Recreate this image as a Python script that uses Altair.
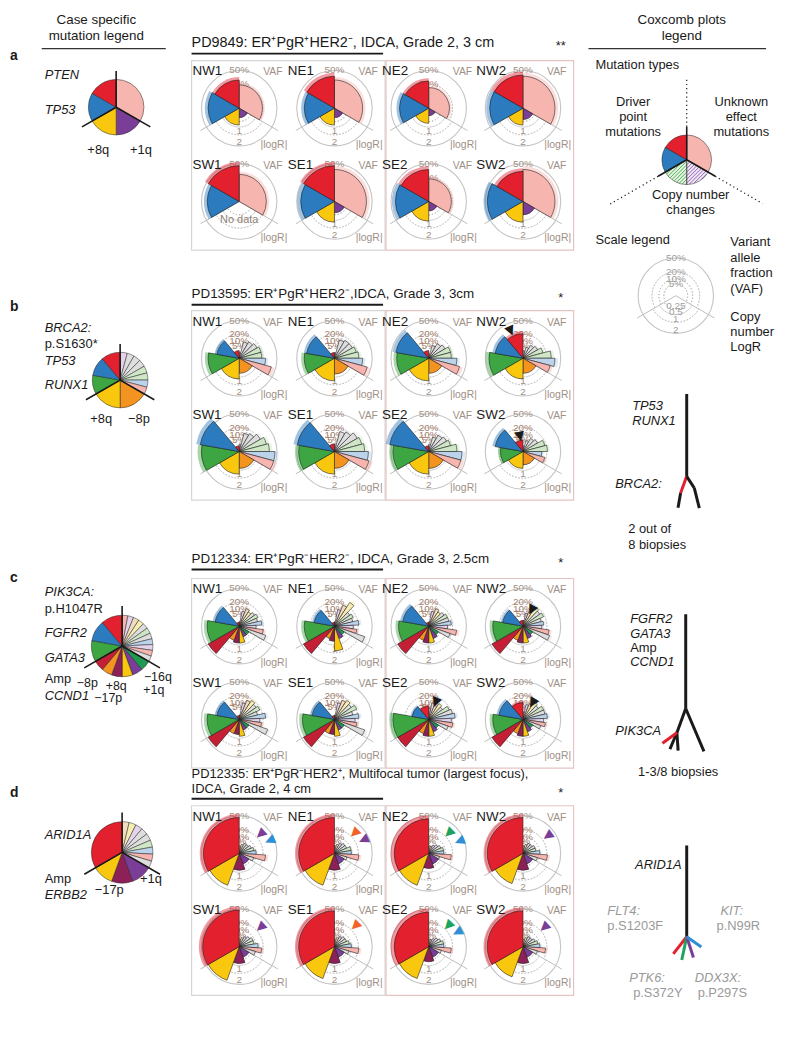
import math
import altair as alt
import pandas as pd

FONT = "Liberation Sans"

# ------------------------------------------------------------------ data
SAMPLES = ["NW1", "NE1", "NE2", "NW2", "SW1", "SE1", "SE2", "SW2"]

RED = "#E2202E"; BLUE = "#2C7BBE"; GREEN = "#3DA642"; YELLOW = "#F9C80E"
PURPLE = "#7A3E98"; ORANGE = "#F49420"; DKRED = "#C41F35"; MAGENTA = "#8E2058"
DKGREEN = "#1E9A50"; PINK = "#F6B5AF"; GRAY = "#DEDEDE"; LGREEN = "#CFE7C6"
LBLUE = "#BBD3EB"; LAV = "#E4D3EA"; BEIGE = "#F3DBBE"; LYEL = "#F7EDB2"
BLACK = "#1a1a1a"; ARR_ORANGE = "#F0642A"; ARR_BLUE = "#2D8FD6"; ARR_GREEN = "#1DA35E"

# case a  PD9849   (unknown-effect VAF | copy number |logR| | driver VAF)
A_UNK_COL = [PINK]
A_CN_COL = [PURPLE, YELLOW]            # +1q, +8q
A_DRV_COL = [BLUE, RED]                # TP53, PTEN
A_UNK = [[.19], [.28], [.15], [.36], [.26], [.36], [.18], [.36]]
A_CN = [[.125, .40], [.125, .40], [.08, .32], [.18, .40], [None, None],
        [.18, .60], [.125, .54], [.245, .60]]
A_DRV = [[.34, .28], [.32, .36], [.30, .26], [.39, .39], [.36, .45],
         [.40, .45], [.39, .36], [.45, .32]]

# case b  PD13595
B_UNK_COL = [LAV, GRAY, GRAY, GRAY, LGREEN, LGREEN, LBLUE, PINK]
B_CN_COL = [ORANGE, YELLOW]            # -8p, +8q
B_DRV_COL = [GREEN, BLUE, RED]         # RUNX1, TP53, BRCA2
B_UNK = [[.011, .10, .125, .15, .18, .18, .245, .39],
         [.011, .125, .15, .15, .18, .21, .28, .405],
         [.007, .061, .10, .125, .18, .18, .28, .36],
         [.02, .045, .08, .10, .15, .28, .36, .28],
         [.02, .125, .15, .21, .28, .32, .45, .45],
         [.02, .15, .18, .245, .28, .32, .405, .45],
         [.02, .08, .125, .15, .18, .28, .39, .39],
         [.011, .045, .08, .10, .18, .21, .125, .18]]
B_CN = [[.32, .60], [.35, .72], [.32, .72], [.32, .60], [.40, .72], [.40, .72],
        [.40, .72], [.245, .40]]
B_DRV = [[.34, .18, .02], [.32, .28, .011], [.36, .39, .02], [.405, .28, .21],
         [.50, .55, .011], [.45, .50, .02], [.45, .55, .011], [.18, .28, .045]]

# case c  PD12334
C_UNK_COL = [PINK, LAV, BEIGE, LYEL, GRAY, LGREEN, GRAY, LBLUE, LAV, PINK, GRAY]
C_CN_COL = [DKGREEN, PURPLE, YELLOW, MAGENTA, ORANGE, DKRED]  # -16q,+1q,+8q,-17p,-8p,Amp CCND1
C_DRV_COL = [GREEN, BLUE, RED]         # GATA3, FGFR2, PIK3CA
C_UNK = [[.007, .08, .125, .10, .125, .15, .125, .18, .10, .21, .28],
         [.007, .10, .18, .28, .125, .15, .125, .21, .125, .18, .36],
         [.007, .08, .125, .10, .125, .15, .15, .18, .125, .28, .18],
         [.011, .061, .125, .18, .15, .18, .125, .15, .125, .245, .28],
         [.007, .10, .15, .18, .15, .18, .125, .245, .15, .18, .32],
         [.007, .10, .15, .18, .15, .21, .125, .21, .15, .18, .36],
         [.045, .10, .08, .125, .10, .18, .21, .245, .18, .21, .15],
         [.02, .08, .10, .15, .125, .18, .18, .21, .15, .18, .125]]
C_CN = [[.18, .18, .40, .40, .32, 1.8], [.18, .245, .85, .32, .245, 1.8],
        [.18, .245, .40, .40, .32, 1.8], [.18, .245, .40, .40, .32, 1.8],
        [.18, .18, .40, .32, .32, 1.8], [.18, .18, .40, .32, .32, 1.8],
        [.18, .245, .40, .40, .32, 1.8], [.18, .245, .40, .40, .32, 1.8]]
C_DRV = [[.36, .21, .005], [.32, .15, .005], [.32, .245, .005], [.32, .15, .011],
         [.36, .18, .005], [.36, .18, .005], [.45, .10, .061], [.32, .21, .10]]

# case d  PD12335
D_UNK_COL = [BEIGE, LYEL, LAV, GRAY, GRAY, LGREEN, LBLUE, PINK, GRAY]
D_CN_COL = [PURPLE, MAGENTA, YELLOW]   # +1q, -17p, Amp ERBB2
D_DRV_COL = [RED]                      # ARID1A
D_UNK = [[.02, .031, .045, .045, .061, .08, .10, .245, .08],
         [.02, .031, .045, .061, .061, .10, .10, .21, .061],
         [.02, .02, .031, .045, .061, .08, .08, .18, .045],
         [.02, .031, .045, .045, .061, .061, .10, .21, .08],
         [.02, .031, .045, .061, .08, .08, .125, .18, .10],
         [.02, .031, .045, .061, .061, .08, .10, .21, .08],
         [.02, .02, .031, .045, .061, .08, .08, .18, .061],
         [.02, .031, .045, .045, .061, .08, .10, .18, .08]]
D_CN = [[.18, .40, 1.62], [.18, .40, 1.62], [.18, .32, 1.62], [.18, .40, 1.45],
        [.18, .40, 1.8], [.18, .40, 1.62], [.18, .32, 1.62], [.18, .40, 1.45]]
D_DRV = [[.45], [.45], [.42], [.45], [.47], [.45], [.42], [.45]]

# arrowheads: (sample, angle in degrees clockwise from 12 o'clock, VAF position, colour)
B_ARROWS = [("NW2", 336, .33, BLACK), ("SW2", 349, .09, BLACK)]
C_ARROWS = [("NW2", 28, .125, BLACK), ("SE2", 22, .125, BLACK), ("SW2", 30, .135, BLACK)]
D_ARROWS = [("NW1", 48, .30, PURPLE), ("NW1", 67, .40, ARR_BLUE),
            ("NE1", 45, .30, ARR_ORANGE), ("NE1", 65, .38, PURPLE),
            ("NE2", 45, .30, ARR_GREEN), ("NE2", 68, .40, ARR_BLUE),
            ("NW2", 55, .34, PURPLE), ("SW1", 48, .30, PURPLE),
            ("SE1", 45, .32, ARR_ORANGE), ("SE2", 43, .30, ARR_GREEN),
            ("SE2", 63, .38, ARR_BLUE), ("SW2", 48, .30, PURPLE)]

# scale rings
RING_VAF = [0.5, 0.2, 0.1, 0.05]
RING_VAF_LAB = ["50%", "20%", "10%", "5%"]
RING_CN = [0.25, 0.5, 1, 2]
RING_CN_LAB = ["0.25", "0.5", "1", "2"]

# phylogenetic trees: (parent segment, angle from vertical in deg, length, colour)
TREE_B = [(-1, 0, 83, BLACK), (0, -20, 18, RED), (1, -10, 15, BLACK),
          (0, 33, 14, BLACK), (3, 14, 21, BLACK)]
TREE_C = [(-1, 0, 95, BLACK), (0, 23, 47, BLACK), (0, -20, 26, BLACK),
          (2, -23, 18, BLACK), (2, 4, 18, BLACK), (2, -54, 18, RED)]
TREE_D = [(-1, 0, 92, BLACK), (0, -38, 22, RED), (0, -12, 24, ARR_GREEN),
          (0, 18, 22, PURPLE), (0, 55, 18, ARR_BLUE)]

# ------------------------------------------------------------------ layout
COL_X = [241, 337, 432, 527]
ROW_Y = {"a": 105, "b": 357, "c": 627, "d": 856}
ROW_GAP = 94
R_PX = 38
TAU = 2 * math.pi

XS = alt.Scale(domain=[8, 784], nice=False, zero=False)
YS = alt.Scale(domain=[8, 1028], nice=False, zero=False, reverse=True)
RS = alt.Scale(type="sqrt", domain=[0, 1], range=[0, R_PX], nice=False)


def X(f):
    return alt.X(f"{f}:Q", scale=XS, axis=None)


def Y(f):
    return alt.Y(f"{f}:Q", scale=YS, axis=None)


def TH(f):
    return alt.Theta(f"{f}:Q", scale=None, stack=False)


CASES = {
    "a": (A_UNK_COL, A_CN_COL, A_DRV_COL, A_UNK, A_CN, A_DRV, []),
    "b": (B_UNK_COL, B_CN_COL, B_DRV_COL, B_UNK, B_CN, B_DRV, B_ARROWS),
    "c": (C_UNK_COL, C_CN_COL, C_DRV_COL, C_UNK, C_CN, C_DRV, C_ARROWS),
    "d": (D_UNK_COL, D_CN_COL, D_DRV_COL, D_UNK, D_CN, D_DRV, D_ARROWS),
}


def center(case, s):
    return COL_X[s % 4], ROW_Y[case] + ROW_GAP * (s // 4)


wedges, arrows, panels = [], [], []
for key, (uc, cc, dc, uv, cv, dv, arr) in CASES.items():
    for s in range(8):
        cx, cy = center(key, s)
        has_cn = any(v is not None for v in cv[s])
        panels.append((cx, cy, SAMPLES[s], key, has_cn))
        for start, cols, vals, kind in ((0, uc, uv[s], "mut"), (120, cc, cv[s], "cn"),
                                        (240, dc, dv[s], "mut")):
            n = len(cols)
            for i, (col, v) in enumerate(zip(cols, vals)):
                if v is None:
                    continue
                rn = v / 0.5 if kind == "mut" else v / 2.0
                wedges.append(dict(cx=cx, cy=cy,
                                   t0=math.radians(start + 120 * i / n),
                                   t1=math.radians(start + 120 * (i + 1) / n),
                                   rn=rn, rh=rn * 1.22 if kind == "mut" else rn, col=col))
    for name, ang, vaf, col in arr:
        cx, cy = center(key, SAMPLES.index(name))
        arrows.append(dict(cx=cx, cy=cy, t=math.radians(ang), deg=ang, rn=vaf / 0.5, col=col))

wdf = pd.DataFrame(wedges)
adf = pd.DataFrame(arrows)

SCALE_C = (681, 294)
circles = [(p[0], p[1]) for p in panels] + [SCALE_C]

rings, outer, spokes, ringlab = [], [], [], []
for cx, cy in circles:
    outer.append(dict(cx=cx, cy=cy, t0=0, t1=TAU, rn=1))
    for v in RING_VAF[1:]:
        rings.append(dict(cx=cx, cy=cy, t0=math.radians(240), t1=math.radians(480), rn=v / 0.5))
    for v in RING_CN[:3]:
        rings.append(dict(cx=cx, cy=cy, t0=math.radians(120), t1=math.radians(240), rn=v / 2))
    for ang in (120, 240):
        a = math.radians(ang)
        spokes.append(dict(x=cx, y=cy, x2=cx + 45 * math.sin(a), y2=cy - 45 * math.cos(a),
                           col="#BDBDBD", w=1))
TAUPE = "#A09086"
RINGC = "#A47E6C"
for (cx, cy, name, key, has_cn) in panels:
    for v, lab in zip(RING_VAF, RING_VAF_LAB):
        ringlab.append(dict(cx=cx, cy=cy, t=0, rn=v / 0.5, label=lab,
                            col=TAUPE if v == 0.5 else RINGC, dy=0))
    if has_cn:
        for v, lab in zip(RING_CN[2:], RING_CN_LAB[2:]):
            ringlab.append(dict(cx=cx, cy=cy, t=math.pi, rn=v / 2, label=lab, col=TAUPE, dy=-4))
for v, lab in zip(RING_VAF, RING_VAF_LAB):
    ringlab.append(dict(cx=SCALE_C[0], cy=SCALE_C[1], t=0, rn=v / 0.5, label=lab, col="#A0A0A0", dy=0))
for v, lab in zip(RING_CN, RING_CN_LAB):
    ringlab.append(dict(cx=SCALE_C[0], cy=SCALE_C[1], t=math.pi, rn=v / 2, label=lab, col="#A0A0A0", dy=-3))

LEG = {"a": (117, 104, 28), "b": (121, 379, 28), "c": (123, 647, 31), "d": (123, 855, 31)}
leg_layers = []
leg_rules = []
for key, (uc, cc, dc, *_rest) in CASES.items():
    lx, ly, lr = LEG[key]
    rows = []
    for start, cols in ((0, uc), (120, cc), (240, dc)):
        n = len(cols)
        for i, col in enumerate(cols):
            rows.append(dict(cx=lx, cy=ly, t0=math.radians(start + 120 * i / n),
                             t1=math.radians(start + 120 * (i + 1) / n), col=col))
    leg_layers.append((pd.DataFrame(rows), lr))
    for ang, ln in ((0, 1.3), (120, 1.42), (240, 1.42)):
        a = math.radians(ang)
        leg_rules.append(dict(x=lx, y=ly, x2=lx + lr * ln * math.sin(a),
                              y2=ly - lr * ln * math.cos(a), col=BLACK, w=1.6))

# mutation-type legend pie (right column); copy-number wedges are hatched
MT = (692, 157, 25)
MT_COLS = [(0, 120, PINK), (120, 180, "#EFE6F4"), (180, 240, "#E6F3E2"),
           (240, 300, BLUE), (300, 360, RED)]
HATCH = [(120, 180, "#8E55B0"), (180, 240, "#3DA642")]
mtdf = pd.DataFrame([dict(cx=MT[0], cy=MT[1], t0=math.radians(a), t1=math.radians(b), col=c)
                     for a, b, c in MT_COLS])
hatch = []
for a0, a1, hc in HATCH:
    k = -MT[2]
    while k <= MT[2]:
        inside = []
        for j in range(-200, 201):
            t = MT[2] * j / 200
            px = k * 0.7071 + t * 0.7071
            py = k * 0.7071 - t * 0.7071
            d = math.hypot(px, py)
            ang = math.degrees(math.atan2(px, -py)) % 360
            if d <= MT[2] - 0.3 and a0 <= ang <= a1:
                inside.append((px, py))
        if len(inside) > 1:
            (x1, y1), (x2, y2) = inside[0], inside[-1]
            hatch.append(dict(x=MT[0] + x1, y=MT[1] + y1, x2=MT[0] + x2, y2=MT[1] + y2,
                              col=hc, w=0.9))
        k += 2.6

dotted = []
for ang, ln in ((0, 82), (120, 88), (240, 89)):
    a = math.radians(ang)
    leg_rules.append(dict(x=MT[0], y=MT[1], x2=MT[0] + MT[2] * 1.33 * math.sin(a),
                          y2=MT[1] - MT[2] * 1.33 * math.cos(a), col=BLACK, w=1.6))
    dotted.append(dict(x=MT[0] + MT[2] * 1.33 * math.sin(a), y=MT[1] - MT[2] * 1.33 * math.cos(a),
                       x2=MT[0] + ln * math.sin(a), y2=MT[1] - ln * math.cos(a), col=BLACK, w=1.2))


def tree(root, spec):
    ends, segs = [], []
    for parent, ang, ln, col in spec:
        sx, sy = root if parent < 0 else ends[parent]
        a = math.radians(ang)
        ex, ey = sx + ln * math.sin(a), sy + ln * math.cos(a)
        ends.append((ex, ey))
        segs.append(dict(x=sx, y=sy, x2=ex, y2=ey, col=col, w=3))
    return segs


tree_rules = tree((692, 393), TREE_B) + tree((691, 615), TREE_C) + tree((692, 848), TREE_D)

lines = [dict(x=42, y=45, x2=167, y2=45, col="#333", w=1.3),
         dict(x=593, y=45, x2=772, y2=45, col="#333", w=1.3)]
for yy in (50, 303, 570, 801):
    lines.append(dict(x=193, y=yy, x2=386, y2=yy, col=BLACK, w=2))

boxes = []
for key, y0 in ROW_Y.items():
    boxes.append(dict(x=193, x2=388, y=y0 - 48, y2=y0 + 143, col="#D6D6D6"))
    boxes.append(dict(x=389, x2=578, y=y0 - 48, y2=y0 + 143, col="#E6C3C3"))
bdf = pd.DataFrame(boxes)

# ------------------------------------------------------------------ texts
texts = []


def add(x, y, s, size=13, col=BLACK, align="left", style="normal"):
    texts.append(dict(tx=x, ty=y, label=s, fs=size, tc=col, al=align, st=style))


P, M = "\u207a", "\u207b"
add(97, 16, "Case specific", size=13.5, align="center")
add(97, 32, "mutation legend", size=13.5, align="center")
add(687, 16, "Coxcomb plots", size=13.5, align="center")
add(687, 32, "legend", size=13.5, align="center")
for lt, yy in (("a", 52), ("b", 305), ("c", 578), ("d", 795)):
    add(10, yy, lt, size=14, style="bold")

add(193, 39, f"PD9849: ER{P}PgR{P}HER2{M}, IDCA, Grade 2, 3 cm", size=14.5)
add(565, 42, "**", align="center")
add(193, 292, f"PD13595: ER{P}PgR{P}HER2{M},IDCA, Grade 3, 3cm", size=13.5)
add(565, 296, "*", align="center")
add(193, 559, f"PD12334: ER{P}PgR{M}HER2{M}, IDCA, Grade 3, 2.5cm", size=13.5)
add(565, 563, "*", align="center")
add(193, 776, f"PD12335: ER{P}PgR{M}HER2{P}, Multifocal tumor (largest focus),")
add(193, 791, "IDCA, Grade 2, 4 cm"); add(565, 795, "*", align="center")

add(45, 72, "PTEN", style="italic"); add(45, 107, "TP53", style="italic")
add(99, 147, "+8q", align="center"); add(142, 147, "+1q", align="center")
add(45, 327, "BRCA2:", style="italic"); add(45, 343, "p.S1630*")
add(45, 360, "TP53", style="italic"); add(45, 384, "RUNX1", style="italic")
add(102, 418, "+8q", align="center"); add(140, 418, "\u22128p", align="center")
add(45, 593, "PIK3CA:", style="italic"); add(45, 610, "p.H1047R")
add(45, 634, "FGFR2", style="italic"); add(45, 659, "GATA3", style="italic")
add(45, 680, "Amp"); add(45, 697, "CCND1", style="italic")
add(88, 684, "\u22128p", align="center", size=12.5)
add(109, 699, "\u221217p", align="center", size=12.5)
add(117, 687, "+8q", align="center", size=12.5)
add(155, 691, "+1q", align="center", size=12.5)
add(159, 678, "\u221216q", align="center", size=12.5)
add(45, 837, "ARID1A", style="italic"); add(45, 882, "Amp"); add(45, 898, "ERBB2", style="italic")
add(110, 893, "\u221217p", align="center"); add(152, 882, "+1q", align="center")

add(600, 61, "Mutation types")
for i, s in enumerate(["Driver", "point", "mutations"]):
    add(638, 99 + 15 * i, s, align="center")
for i, s in enumerate(["Unknown", "effect", "mutations"]):
    add(747, 99 + 15 * i, s, align="center")
add(696, 193, "Copy number", align="center"); add(696, 208, "changes", align="center")
add(600, 238, "Scale legend")
for i, s in enumerate(["Variant", "allele", "fraction", "(VAF)"]):
    add(736, 240 + 15.7 * i, s)
for i, s in enumerate(["Copy", "number", "LogR"]):
    add(736, 315 + 15.5 * i, s)
add(637, 405, "TP53", style="italic"); add(637, 420, "RUNX1", style="italic")
add(620, 484, "BRCA2:", style="italic")
add(633, 529, "2 out of"); add(633, 545, "8  biopsies")
add(635, 620, "FGFR2", style="italic"); add(635, 635, "GATA3", style="italic")
add(635, 649, "Amp"); add(635, 663, "CCND1", style="italic")
add(620, 733, "PIK3CA", style="italic"); add(643, 774, "1-3/8  biopsies")
add(640, 868, "ARID1A", style="italic")
TG = "#9A9A9A"
add(612, 914, "FLT4:", col=TG, style="italic"); add(612, 929, "p.S1203F", col=TG)
add(726, 914, "KIT:", col=TG, style="italic"); add(722, 929, "p.N99R", col=TG)
add(634, 982, "PTK6:", col=TG, style="italic"); add(638, 997, "p.S372Y", col=TG)
add(700, 982, "DDX3X:", col=TG, style="italic"); add(703, 997, "p.P297S", col=TG)

for (cx, cy, name, key, has_cn) in panels:
    add(cx - 47, cy - 37, name, size=13.5)
    add(cx + 34, cy - 36, "VAF", size=10.5, col=TAUPE, align="center")
    add(cx + 35, cy + 37, "|logR|", size=10.5, col=TAUPE, align="center")
    if not has_cn:
        add(cx, cy + 19, "No data", size=11, col="#8E7F76", align="center")

tdf = pd.DataFrame(texts)

# ------------------------------------------------------------------ layers
layers = []
layers.append(alt.Chart(bdf).mark_rect(filled=False, strokeWidth=1.2).encode(
    x=X("x"), x2=alt.X2("x2:Q"), y=Y("y"), y2=alt.Y2("y2:Q"),
    color=alt.Color("col:N", scale=None)))

layers.append(alt.Chart(pd.DataFrame(rings)).mark_arc(
    filled=False, strokeDash=[1, 2.2], strokeWidth=0.9, color="#A8A8A8").encode(
    x=X("cx"), y=Y("cy"), theta=TH("t0"), theta2=alt.Theta2("t1:Q"),
    radius=alt.Radius("rn:Q", scale=RS), radius2=alt.Radius2("rn:Q")))

layers.append(alt.Chart(pd.DataFrame(outer)).mark_arc(
    filled=False, strokeWidth=1.1, color="#C4C4C4").encode(
    x=X("cx"), y=Y("cy"), theta=TH("t0"), theta2=alt.Theta2("t1:Q"),
    radius=alt.Radius("rn:Q", scale=RS)))

layers.append(alt.Chart(pd.DataFrame(spokes)).mark_rule().encode(
    x=X("x"), y=Y("y"), x2=alt.X2("x2:Q"), y2=alt.Y2("y2:Q"),
    color=alt.Color("col:N", scale=None), size=alt.Size("w:Q", scale=None)))

rl = pd.DataFrame(ringlab)
for dyv in (0, -4, -3):
    sub = rl[rl.dy == dyv]
    layers.append(alt.Chart(sub).mark_text(font=FONT, fontSize=10, baseline="middle",
                                           align="center", dy=dyv).encode(
        x=X("cx"), y=Y("cy"), theta=TH("t"), radius=alt.Radius("rn:Q", scale=RS),
        text="label:N", color=alt.Color("col:N", scale=None)))

layers.append(alt.Chart(wdf).mark_arc(opacity=0.45).encode(
    x=X("cx"), y=Y("cy"), theta=TH("t0"), theta2=alt.Theta2("t1:Q"),
    radius=alt.Radius("rh:Q", scale=RS), color=alt.Color("col:N", scale=None)))
layers.append(alt.Chart(wdf).mark_arc(stroke="#222222", strokeWidth=0.6).encode(
    x=X("cx"), y=Y("cy"), theta=TH("t0"), theta2=alt.Theta2("t1:Q"),
    radius=alt.Radius("rn:Q", scale=RS), color=alt.Color("col:N", scale=None)))

layers.append(alt.Chart(adf).mark_text(font="DejaVu Sans", fontSize=13, baseline="middle",
                                       align="center", text="\u25BC").encode(
    x=X("cx"), y=Y("cy"), theta=TH("t"), radius=alt.Radius("rn:Q", scale=RS),
    angle=alt.Angle("deg:Q", scale=None), color=alt.Color("col:N", scale=None)))

for ldf, lr in leg_layers:
    layers.append(alt.Chart(ldf).mark_arc(radius=lr, stroke="#222222", strokeWidth=0.5).encode(
        x=X("cx"), y=Y("cy"), theta=TH("t0"), theta2=alt.Theta2("t1:Q"),
        color=alt.Color("col:N", scale=None)))
layers.append(alt.Chart(mtdf).mark_arc(radius=MT[2]).encode(
    x=X("cx"), y=Y("cy"), theta=TH("t0"), theta2=alt.Theta2("t1:Q"),
    color=alt.Color("col:N", scale=None)))
layers.append(alt.Chart(pd.DataFrame(hatch)).mark_rule().encode(
    x=X("x"), y=Y("y"), x2=alt.X2("x2:Q"), y2=alt.Y2("y2:Q"),
    color=alt.Color("col:N", scale=None), size=alt.Size("w:Q", scale=None)))
layers.append(alt.Chart(mtdf).mark_arc(radius=MT[2], filled=False, stroke="#222222",
                                       strokeWidth=0.5).encode(
    x=X("cx"), y=Y("cy"), theta=TH("t0"), theta2=alt.Theta2("t1:Q")))

allrules = pd.DataFrame(leg_rules + tree_rules + lines)
layers.append(alt.Chart(allrules).mark_rule().encode(
    x=X("x"), y=Y("y"), x2=alt.X2("x2:Q"), y2=alt.Y2("y2:Q"),
    color=alt.Color("col:N", scale=None), size=alt.Size("w:Q", scale=None)))
layers.append(alt.Chart(pd.DataFrame(dotted)).mark_rule(strokeDash=[1.2, 3]).encode(
    x=X("x"), y=Y("y"), x2=alt.X2("x2:Q"), y2=alt.Y2("y2:Q"),
    color=alt.Color("col:N", scale=None), size=alt.Size("w:Q", scale=None)))

for (al, st, fs, tc), sub in tdf.groupby(["al", "st", "fs", "tc"]):
    kw = dict(font=FONT, baseline="middle", align=al, fontSize=float(fs), color=tc)
    if st == "italic":
        kw["fontStyle"] = "italic"
    if st == "bold":
        kw["fontWeight"] = "bold"
    layers.append(alt.Chart(sub.reset_index(drop=True)).mark_text(**kw).encode(
        x=X("tx"), y=Y("ty"), text="label:N"))

chart = alt.layer(*layers).properties(
    width=776, height=1020, padding=0, autosize=alt.AutoSizeParams(type="none")
).configure_view(stroke=None)

chart.save("out.html", embed_options={"renderer": "svg", "actions": False})
